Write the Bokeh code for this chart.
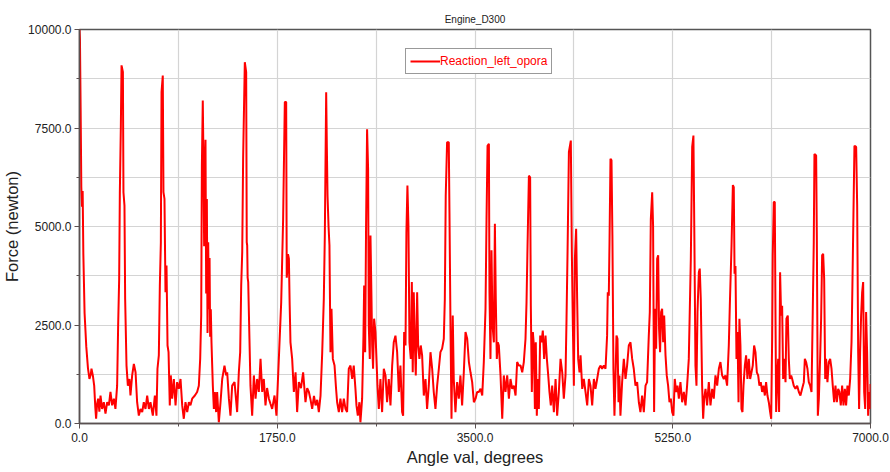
from bokeh.plotting import figure
from bokeh.models import Range1d, FixedTicker, NumeralTickFormatter, ColumnDataSource
from bokeh.embed import file_html
from bokeh.resources import INLINE

# ---- data ----
angle_a = [0, 4, 10, 16, 22, 28, 34, 45, 60, 75,
           88, 100, 106, 118, 130, 140, 147, 156, 165, 176,
           186, 200, 215, 230, 245, 260, 274, 289, 304, 318,
           333, 342, 351, 357, 366, 372, 384, 389, 398, 404,
           416, 428, 442, 451, 466, 481, 496, 510, 525, 540,
           555, 569, 584, 599, 614, 628, 649, 667, 681, 690,
           702, 711, 720, 726, 737, 743, 752, 761, 770, 779,
           788, 799, 808, 820, 835, 850, 864, 879, 894, 909,
           923, 938, 953, 968, 982, 997, 1021, 1041, 1056, 1068,
           1077, 1083, 1091, 1097, 1103, 1109, 1115, 1121, 1127, 1133,
           1139, 1145, 1151, 1156, 1162, 1168, 1174, 1180, 1189, 1198]
force_a = [10000, 9750, 8000, 6000, 5500, 5900, 4300, 2800, 1950, 1400,
           1130, 1250, 1390, 1220, 960, 400, 120, 500, 630, 300,
           710, 370, 540, 250, 540, 460, 800, 460, 630, 370,
           960, 2490, 3670, 5870, 7560, 9090, 8920, 5870, 5530, 3160,
           1470, 960, 1130, 710, 1220, 1510, 1300, 540, 200, 370,
           290, 540, 370, 710, 370, 540, 200, 710, 200, 1390,
           1730, 3500, 4600, 8410, 8830, 5870, 5700, 3330, 4010, 1980,
           1810, 460, 1220, 630, 1130, 460, 1050, 880, 1130, 460,
           120, 540, 290, 540, 460, 630, 710, 800, 960, 1640,
           2750, 6550, 8200, 6700, 4500, 6400, 7200, 3300, 5700, 2300,
           4600, 2900, 4200, 2200, 2900, 2060, 1500, 960, 370, 800]

angle_b = [1209, 1218, 1233, 1248, 1263, 1283, 1298, 1307, 1322, 1336,
           1351, 1372, 1395, 1410, 1422, 1431, 1440, 1448, 1463, 1475,
           1480, 1484, 1488, 1493, 1504, 1513, 1528, 1543, 1558, 1572,
           1587, 1602, 1617, 1631, 1646, 1660, 1676, 1690, 1705, 1726,
           1743, 1764, 1785, 1802, 1817, 1829, 1834, 1838, 1845, 1853,
           1860, 1867, 1882, 1897, 1912, 1926, 1941, 1960, 1979, 2000,
           2015, 2030, 2045, 2059, 2075, 2089, 2104, 2118, 2133, 2148,
           2162, 2171, 2183, 2189, 2195, 2204, 2212, 2221, 2230, 2242,
           2257, 2270, 2280, 2295]
force_b = [290, 800, 30, 540, 1130, 1470, 1220, 1300, 630, 200,
           960, 1050, 290, 1300, 1810, 3500, 4350, 6720, 9170, 8920,
           4600, 4520, 3700, 3590, 2150, 960, 200, 1220, 630, 1130,
           800, 1640, 800, 1130, 460, 900, 630, 500, 370, 710,
           200, 1640, 3080, 5190, 8160, 8160, 3700, 3840, 4300, 4180,
           3000, 2060, 1640, 800, 1300, 290, 1050, 900, 1300, 540,
           900, 800, 600, 370, 700, 460, 600, 290, 710, 1810,
           3160, 4770, 8410, 7000, 5780, 5000, 4520, 1810, 2910, 1640,
           1470, 900, 540, 290]

angle_c = [2309, 2324, 2339, 2354, 2368, 2383, 2398, 2413, 2427, 2442,
           2451, 2463, 2477, 2486, 2501, 2513, 2519, 2528, 2536, 2545,
           2554, 2560, 2569, 2575, 2584, 2590, 2598, 2607, 2619, 2628,
           2637, 2649, 2663, 2678, 2693, 2708, 2722, 2737, 2752, 2767,
           2781, 2796, 2811, 2826, 2840, 2855, 2864, 2873, 2885, 2893,
           2902, 2911, 2920, 2932, 2941, 2949, 2958, 2967, 2976, 2988,
           2997, 3008, 3020, 3032, 3047, 3062, 3076, 3091, 3106, 3121,
           3135, 3150, 3165, 3180, 3194, 3209, 3224, 3233, 3241, 3253,
           3268, 3274, 3283, 3292, 3303, 3312, 3327, 3342, 3357, 3371,
           3386, 3401]
force_c = [630, 290, 630, 370, 290, 1390, 1470, 1130, 1470, 880,
           460, 200, 540, 30, 630, 2230, 3500, 1810, 5020, 7470,
           6460, 2490, 1640, 4770, 3160, 1980, 1390, 2660, 2320, 1640,
           960, 370, 1130, 290, 1390, 1220, 540, 1130, 460, 1470,
           2060, 2230, 1810, 800, 1470, 290, 200, 2320, 1980, 4840,
           6040, 5020, 2060, 1640, 3590, 1300, 3330, 2060, 1220, 3330,
           1980, 1640, 1980, 1730, 710, 1130, 370, 960, 1810, 1390,
           800, 370, 960, 1390, 1810, 1900, 2150, 3160, 5780, 7140,
           7140, 5360, 2490, 120, 2740, 1130, 290, 1050, 630, 1220,
           460, 1300]

angle_d = [3416, 3431, 3446, 3460, 3475, 3490, 3505, 3519, 3534, 3549,
           3564, 3578, 3593, 3602, 3611, 3623, 3628, 3637, 3646, 3655,
           3667, 3676, 3684, 3693, 3702, 3711, 3726, 3741, 3755, 3770,
           3785, 3800, 3814, 3829, 3844, 3859, 3873, 3888, 3903, 3918,
           3932, 3947, 3956, 3965, 3977, 3988, 3994, 4003, 4012, 4021,
           4030, 4038, 4047, 4056, 4065, 4077, 4089, 4100, 4112, 4124,
           4136, 4148, 4159, 4171, 4183, 4198, 4213, 4227, 4242, 4257,
           4272, 4286, 4301, 4310, 4319, 4331, 4348, 4357, 4366, 4375,
           4384, 4395, 4404, 4413, 4425, 4434, 4449, 4463, 4478, 4493,
           4508, 4522, 4537, 4552]
force_d = [2320, 2150, 1560, 1300, 1050, 540, 630, 800, 800, 880,
           710, 1560, 2910, 5190, 7050, 7100, 3330, 1640, 4400, 2500,
           2060, 5070, 3160, 1640, 2060, 1980, 1220, 120, 1220, 800,
           1220, 630, 1130, 880, 960, 710, 1560, 1470, 1470, 1300,
           1560, 2150, 3080, 4520, 6290, 6250, 2990, 800, 2320, 1980,
           370, 2060, 200, 1130, 370, 2230, 2060, 2360, 1640, 2230,
           1640, 1220, 800, 460, 960, 290, 1130, 200, 800, 1640,
           1300, 630, 1220, 2660, 4350, 6890, 7180, 4350, 2490, 960,
           4180, 4940, 3160, 1640, 1300, 1730, 880, 1130, 800, 460,
           1130, 960, 460, 1130]

angle_e = [4566, 4581, 4596, 4610, 4625, 4640, 4655, 4669, 4675, 4684,
           4690, 4699, 4708, 4716, 4725, 4734, 4743, 4752, 4761, 4770,
           4778, 4787, 4802, 4817, 4832, 4846, 4861, 4876, 4891, 4905,
           4920, 4935, 4950, 4964, 4979, 4994, 5009, 5023, 5038, 5047,
           5056, 5068, 5076, 5085, 5094, 5103, 5112, 5121, 5129, 5138,
           5147, 5156, 5165, 5174, 5186, 5197, 5209, 5221, 5233, 5245,
           5256, 5268, 5280, 5292, 5304, 5318, 5333, 5348, 5363, 5377,
           5392, 5401, 5410, 5422, 5433, 5442, 5451, 5460, 5469, 5481,
           5489, 5498, 5510, 5519, 5528, 5540, 5554, 5569, 5584, 5599,
           5613, 5628, 5643, 5658, 5672, 5687, 5702, 5716, 5731, 5746,
           5755]
force_e = [880, 1130, 1390, 1470, 1390, 1470, 1390, 2230, 3330, 3240,
           4520, 6720, 6680, 4770, 1390, 200, 1130, 2230, 2150, 540,
           1220, 200, 1050, 1640, 1130, 1470, 1980, 2060, 1640, 1390,
           960, 1050, 540, 290, 710, 290, 960, 1050, 2230, 2830,
           5190, 5870, 5020, 290, 2910, 1900, 4180, 4270, 2400, 1810,
           2830, 2910, 2060, 2740, 1730, 1220, 960, 540, 630, 290,
           200, 1130, 800, 960, 630, 1050, 540, 800, 460, 960,
           1640, 2910, 4180, 7020, 7310, 4520, 1470, 960, 2830, 3840,
           3930, 3160, 960, 120, 630, 880, 460, 1050, 460, 880,
           630, 1220, 960, 1390, 1560, 1220, 1130, 1220, 960, 1980,
           2990]

angle_f = [5770, 5782, 5790, 5797, 5805, 5814, 5823, 5832, 5840, 5849,
           5858, 5867, 5876, 5888, 5899, 5911, 5923, 5935, 5947, 5958,
           5970, 5982, 5994, 6006, 6017, 6029, 6041, 6053, 6065, 6076,
           6088, 6100, 6112, 6121, 6130, 6135, 6144, 6153, 6159, 6165,
           6174, 6183, 6191, 6200, 6209, 6218, 6227, 6236, 6248, 6256,
           6268, 6277, 6286, 6298, 6307, 6321, 6336, 6351, 6366, 6380,
           6395, 6410, 6419, 6430, 6442, 6454, 6466, 6478, 6489, 6498,
           6504, 6519, 6525, 6534, 6543, 6554, 6563, 6572, 6581, 6590,
           6599, 6607, 6619, 6631, 6643, 6655, 6666, 6678, 6690, 6702,
           6714, 6725, 6737, 6749, 6761, 6773, 6784, 6796, 6808, 6820,
           6832, 6840, 6849, 6858, 6873, 6882, 6891, 6899, 6908, 6917,
           6926, 6935, 6944, 6953, 6961, 6970, 6979, 6988, 6997, 7000]
force_f = [4500, 6050, 6000, 3800, 4000, 1640, 2320, 540, 2660, 1980,
           370, 290, 960, 1470, 1730, 1130, 1640, 1130, 1300, 1470,
           1980, 1810, 1300, 1220, 960, 1050, 800, 960, 710, 1050,
           710, 540, 290, 120, 2230, 4270, 5620, 5620, 2830, 290,
           1130, 1640, 290, 3840, 2740, 2990, 1130, 1640, 1050, 2660,
           2740, 1640, 1130, 1220, 1130, 960, 880, 960, 800, 710,
           880, 1050, 1640, 1560, 1390, 1050, 960, 800, 2830, 4600,
           6840, 6800, 4770, 200, 630, 1640, 2660, 4270, 4310, 3670,
           1130, 1640, 1050, 1560, 1640, 1390, 960, 540, 960, 540,
           880, 800, 460, 960, 460, 880, 460, 960, 710, 1130,
           2060, 3500, 5280, 7050, 7020, 5530, 1810, 370, 1810, 2740,
           3330, 3590, 800, 370, 2830, 1810, 200, 800, 370, 1000]

x_major_ticks = [0, 1750, 3500, 5250, 7000]
x_minor_ticks = [875, 2625, 4375, 6125]
y_major_ticks = [0, 2500, 5000, 7500, 10000]
y_minor_ticks = [1250, 3750, 6250, 8750]

series_name = "Reaction_left_opora"
title_text = "Engine_D300"

angle = angle_a + angle_b + angle_c + angle_d + angle_e + angle_f
force = force_a + force_b + force_c + force_d + force_e + force_f
n = min(len(angle), len(force))
source = ColumnDataSource(data=dict(angle=angle[:n], force=force[:n]))

FONT = "Liberation Sans"

p = figure(width=890, height=472, output_backend="svg", toolbar_location=None,
           x_range=Range1d(0, 7000), y_range=Range1d(0, 10000),
           min_border_left=79, min_border_right=20, min_border_top=29, min_border_bottom=49,
           title=title_text, background_fill_color="white", border_fill_color="white")

p.title.align = "center"
p.title.text_font = FONT
p.title.text_font_size = "10px"
p.title.text_font_style = "normal"
p.title.text_color = "#222222"
p.title.standoff = 9

p.line("angle", "force", source=source, line_color="#ff0000", line_width=2,
       legend_label=series_name)

p.outline_line_color = "#555555"
p.outline_line_width = 1.5

for ax in (p.xaxis[0], p.yaxis[0]):
    ax.axis_line_color = "#5a5050"
    ax.axis_line_width = 1.5
    ax.major_tick_line_color = "#5a5050"
    ax.minor_tick_line_color = "#5a5050"
    ax.major_tick_in = 0
    ax.major_tick_out = 5
    ax.minor_tick_in = 0
    ax.minor_tick_out = 3
    ax.major_label_text_font = FONT
    ax.major_label_text_font_size = "12px"
    ax.major_label_text_color = "#222222"
    ax.axis_label_text_font = FONT
    ax.axis_label_text_font_size = "16.5px"
    ax.axis_label_text_font_style = "normal"
    ax.axis_label_text_color = "#222222"
    ax.formatter = NumeralTickFormatter(format="0.0")

p.xaxis[0].ticker = FixedTicker(ticks=x_major_ticks, minor_ticks=x_minor_ticks)
p.yaxis[0].ticker = FixedTicker(ticks=y_major_ticks, minor_ticks=y_minor_ticks)
p.xaxis.axis_label = "Angle val, degrees"
p.yaxis.axis_label = "Force (newton)"
p.xaxis.axis_label_standoff = 3
p.yaxis.axis_label_standoff = 4
p.xaxis.major_label_standoff = 4
p.yaxis.major_label_standoff = 3

for g in (p.xgrid[0], p.ygrid[0]):
    g.grid_line_color = "#d4d4d4"
    g.grid_line_width = 1.2
    g.minor_grid_line_color = "#d4d4d4"
    g.minor_grid_line_width = 1.2

lg = p.legend[0]
lg.location = (326, 349)
lg.label_text_font = FONT
lg.label_text_font_size = "12px"
lg.label_text_color = "#ff0000"
lg.border_line_color = "#333333"
lg.border_line_width = 1
lg.background_fill_alpha = 1.0
lg.padding = 4
lg.margin = 0
lg.spacing = 0
lg.label_height = 16
lg.glyph_height = 16
lg.glyph_width = 30
lg.label_standoff = 0

open("out.html", "w").write(file_html(p, INLINE))
